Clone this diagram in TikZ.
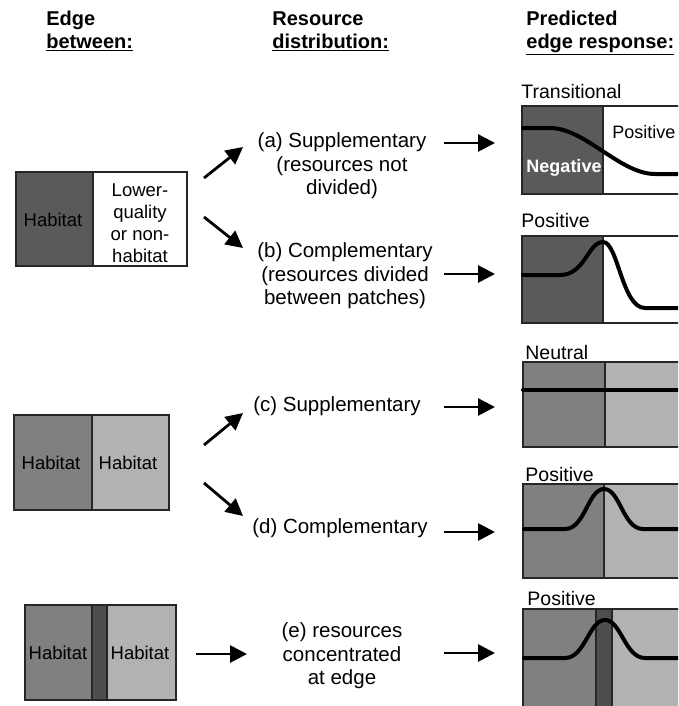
\documentclass[tikz,border=0pt]{standalone}
\usepackage{fontspec}
\setmainfont{Liberation Sans}
\usetikzlibrary{arrows.meta}
\definecolor{darkHab}{RGB}{90,90,90}
\definecolor{midHab}{RGB}{128,128,128}
\definecolor{lightHab}{RGB}{178,178,178}
\definecolor{stripHab}{RGB}{78,78,78}
\tikzstyle{head} = [font=\bfseries\fontsize{20}{23}\selectfont, align=left, anchor=north west, inner sep=0pt]
\tikzstyle{distr} = [font=\fontsize{20.5}{23.5}\selectfont, align=center, inner sep=0pt]
\tikzstyle{resp} = [font=\fontsize{19.5}{22}\selectfont, anchor=west, inner sep=0pt]
\tikzstyle{hab} = [font=\fontsize{18.5}{22}\selectfont, align=center, inner sep=0pt]
\tikzstyle{patch} = [draw=black!85, line width=1.5pt]
\tikzstyle{curve} = [line width=4pt, line cap=round]
\begin{document}
\begin{tikzpicture}[x=1pt, y=-1pt, >={Triangle[length=17pt,width=17pt]}, line width=2.8pt]
    \useasboundingbox (0,0) rectangle (678,706);
    \clip (0,0) rectangle (678,706);
    \fill[white] (0,0) rectangle (678,706);

    % headers
    \node[head] (hEdge) at (45,10) {Edge\\\underline{between:}};
    \node[head] (hRes) at (271,10) {Resource\\\underline{distribution:}};
    \node[head] (hPred) at (525,10) {Predicted\\\underline{edge response:}};

    % edge between
    \fill[darkHab] (16,172) rectangle (93,266);
    \draw[patch] (16,172) rectangle (187,266) (93,172) -- (93,266);
    \node[hab] (hab1) at (53,220) {Habitat};
    \node[hab] (low) at (140,223) {Lower-\\quality\\or non-\\habitat};

    \fill[midHab] (14,415) rectangle (92,510);
    \fill[lightHab] (92,415) rectangle (169,510);
    \draw[patch] (14,415) rectangle (169,510) (92,415) -- (92,510);
    \node[hab] (hab2) at (51,463) {Habitat};
    \node[hab] (hab3) at (128,463) {Habitat};

    \fill[midHab] (25,605) rectangle (92,700);
    \fill[stripHab] (92,605) rectangle (107,700);
    \fill[lightHab] (107,605) rectangle (176,700);
    \draw[patch] (25,605) rectangle (176,700) (92,605) -- (92,700) (107,605) -- (107,700);
    \node[hab] (hab4) at (58,653) {Habitat};
    \node[hab] (hab5) at (140,653) {Habitat};

    % resource distribution
    \node[distr] (supA) at (342,166) {(a) Supplementary\\(resources not\\divided)};
    \node[distr] (comB) at (345,276) {(b) Complementary\\(resources divided\\between patches)};
    \node[distr] (supC) at (337,406) {(c) Supplementary};
    \node[distr] (comD) at (340,528) {(d) Complementary};
    \node[distr] (conE) at (342,656) {(e) resources\\concentrated\\at edge};

    % predicted edge response
    \node[resp] (lbT) at (520,92) {Transitional};
    \fill[darkHab] (522,106) rectangle (603,194);
    \draw[patch] (522,106) rectangle (700,194) (603,106) -- (603,194);
    \draw[curve] (523,128) -- (550,128) .. controls (585,128) and (620,174) .. (655,174) -- (700,174);
    \node[font=\bfseries\fontsize{18}{22}\selectfont, text=white, inner sep=0pt] (neg) at (564,168) {Negative};
    \node[resp, font=\fontsize{18}{22}\selectfont] (posT) at (611,132) {Positive};

    \node[resp] (lbP) at (520,221) {Positive};
    \fill[darkHab] (522,236) rectangle (603,323);
    \draw[patch] (522,236) rectangle (700,323) (603,236) -- (603,323);
    \draw[curve] (523,275) -- (560,275) .. controls (585,275) and (588,242) .. (603,242)
        .. controls (618,242) and (622,308) .. (645,308) -- (700,308);

    \node[resp] (lbN) at (524,353) {Neutral};
    \fill[midHab] (523,362) rectangle (605,447);
    \fill[lightHab] (605,362) rectangle (700,447);
    \draw[patch] (523,362) rectangle (700,447) (605,362) -- (605,447);
    \draw[curve] (523,390) -- (700,390);

    \node[resp] (lbD) at (524,475) {Positive};
    \fill[midHab] (523,484) rectangle (604,578);
    \fill[lightHab] (604,484) rectangle (700,578);
    \draw[patch] (523,484) rectangle (700,578) (604,484) -- (604,578);
    \draw[curve] (524,529) -- (565,529) .. controls (585,529) and (588,489) .. (604,489)
        .. controls (620,489) and (623,529) .. (643,529) -- (700,529);

    \node[resp] (lbE) at (526,599) {Positive};
    \fill[midHab] (523,609) rectangle (596,720);
    \fill[stripHab] (596,609) rectangle (612,720);
    \fill[lightHab] (612,609) rectangle (700,720);
    \draw[patch] (523,609) rectangle (700,720) (596,609) -- (596,720) (612,609) -- (612,720);
    \draw[curve] (524,658) -- (565,658) .. controls (585,658) and (589,620) .. (605,620)
        .. controls (621,620) and (625,658) .. (645,658) -- (700,658);

    % arrows
    \coordinate (upA0) at (204,178); \coordinate (upA1) at (243,147);
    \coordinate (dnB0) at (204,217); \coordinate (dnB1) at (243,248);
    \coordinate (upC0) at (204,445); \coordinate (upC1) at (243,413);
    \coordinate (dnD0) at (204,483); \coordinate (dnD1) at (243,516);
    \coordinate (inE0) at (196,654); \coordinate (inE1) at (247,654);
    \draw[->] (upA0) -- (upA1);
    \draw[->] (dnB0) -- (dnB1);
    \draw[->] (upC0) -- (upC1);
    \draw[->] (dnD0) -- (dnD1);
    \draw[->] (inE0) -- (inE1);
    \foreach \y/\n in {143/A,274/B,407/C,532/D,653/E}
      \draw[->] (444,\y) coordinate (out\n) -- (495,\y);
\end{tikzpicture}
\end{document}
